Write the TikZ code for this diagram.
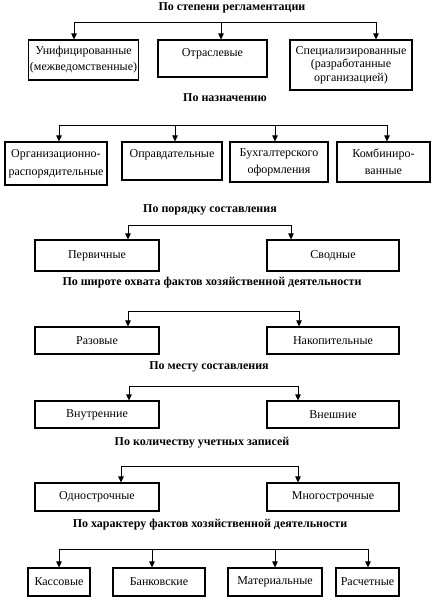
\documentclass[tikz,border=0pt]{standalone}
\usepackage{fontspec}
\setmainfont{Liberation Serif}
\usetikzlibrary{arrows.meta}
\begin{document}
\begin{tikzpicture}[x=1pt,y=-1pt,
 box/.style={draw, line width=1.1pt, inner sep=1pt, align=center, font=\fontsize{12}{15}\selectfont},
 ttl/.style={font=\bfseries\fontsize{12}{14}\selectfont, inner sep=0pt},
 bus/.style={line width=0.9pt},
 arr/.style={line width=0.9pt, -{Triangle[length=6pt,width=5.5pt]}}]
\useasboundingbox[fill=white] (0,0) rectangle (442,611);

% Row 1
\node[ttl, anchor=base] (t1) at (232,10.5) {По степени регламентации};
\node[box, minimum width=109pt, minimum height=40pt, font=\fontsize{12}{16}\selectfont] (A) at (83.5,60) {Унифицированные\\(межведомственные)};
\node[box, minimum width=109pt, minimum height=37pt, text height=8pt, text depth=13pt] (B) at (212.5,58.5) {Отраслевые};
\node[box, minimum width=122pt, minimum height=50pt, font=\fontsize{12}{13.5}\selectfont] (C) at (351,65) {Специализированные\\(разработанные\\организацией)};
\coordinate (r1a) at (74,22); \coordinate (r1b) at (221,22); \coordinate (r1c) at (376,22);
\draw[bus] (r1a) -- (r1c);
\draw[arr] (r1a) -- (r1a |- A.north);
\draw[arr] (r1b) -- (r1b |- B.north);
\draw[arr] (r1c) -- (r1c |- C.north);

% Row 2
\node[ttl] (t2) at (225,98) {По назначению};
\node[box, minimum width=102pt, minimum height=43pt, font=\fontsize{12}{18}\selectfont] (D) at (56,163.5) {Организационно-\\распорядительные};
\node[box, minimum width=100pt, minimum height=38pt, text height=8pt, text depth=16pt] (E) at (172,161) {Оправдательные};
\node[box, minimum width=98pt, minimum height=40pt, font=\fontsize{12}{17}\selectfont] (F) at (279,162) {Бухгалтерского\\оформления};
\node[box, minimum width=93pt, minimum height=40pt, font=\fontsize{12}{17}\selectfont] (G) at (383.5,162) {Комбиниро-\\ванные};
\coordinate (r2a) at (59,125); \coordinate (r2b) at (175,125); \coordinate (r2c) at (275,125); \coordinate (r2d) at (387,125);
\draw[bus] (r2a) -- (r2d);
\draw[arr] (r2a) -- (r2a |- D.north);
\draw[arr] (r2b) -- (r2b |- E.north);
\draw[arr] (r2c) -- (r2c |- F.north);
\draw[arr] (r2d) -- (r2d |- G.north);

% Row 3
\node[ttl] (t3) at (210,210) {По порядку составления};
\node[box, minimum width=124pt, minimum height=31pt] (H) at (97,255.5) {Первичные};
\node[box, minimum width=132pt, minimum height=31pt] (I) at (333,255.5) {Сводные};
\coordinate (r3a) at (128,225); \coordinate (r3b) at (291,225);
\draw[bus] (r3a) -- (r3b);
\draw[arr] (r3a) -- (r3a |- H.north);
\draw[arr] (r3b) -- (r3b |- I.north);

% Row 4
\node[ttl] (t4) at (212,283) {По широте охвата фактов хозяйственной деятельности};
\node[box, minimum width=124pt, minimum height=27pt] (J) at (97,340.5) {Разовые};
\node[box, minimum width=132pt, minimum height=27pt] (K) at (333,340.5) {Накопительные};
\coordinate (r4a) at (128,311); \coordinate (r4b) at (299,311);
\draw[bus] (r4a) -- (r4b);
\draw[arr] (r4a) -- (r4a |- J.north);
\draw[arr] (r4b) -- (r4b |- K.north);

% Row 5
\node[ttl] (t5) at (209,367) {По месту составления};
\node[box, minimum width=124pt, minimum height=27pt] (L) at (97,414.5) {Внутренние};
\node[box, minimum width=132pt, minimum height=27pt] (M) at (333,414.5) {Внешние};
\coordinate (r5a) at (129,386); \coordinate (r5b) at (298,386);
\draw[bus] (r5a) -- (r5b);
\draw[arr] (r5a) -- (r5a |- L.north);
\draw[arr] (r5b) -- (r5b |- M.north);

% Row 6
\node[ttl] (t6) at (202,443) {По количеству учетных записей};
\node[box, minimum width=124pt, minimum height=28pt] (N) at (97,497) {Однострочные};
\node[box, minimum width=132pt, minimum height=28pt] (O) at (333,497) {Многострочные};
\coordinate (r6a) at (121,466); \coordinate (r6b) at (298,466);
\draw[bus] (r6a) -- (r6b);
\draw[arr] (r6a) -- (r6a |- N.north);
\draw[arr] (r6b) -- (r6b |- O.north);

% Row 7
\node[ttl] (t7) at (210,525) {По характеру фактов хозяйственной деятельности};
\node[box, minimum width=62pt, minimum height=28pt] (P) at (59,582) {Кассовые};
\node[box, minimum width=92pt, minimum height=28pt] (Q) at (159,582) {Банковские};
\node[box, minimum width=94pt, minimum height=28pt] (R) at (275,582) {Материальные};
\node[box, minimum width=63pt, minimum height=28pt] (S) at (367.5,582) {Расчетные};
\coordinate (r7a) at (59,549); \coordinate (r7b) at (152,549); \coordinate (r7c) at (275,549); \coordinate (r7d) at (368,549);
\draw[bus] (r7a) -- (r7d);
\draw[arr] (r7a) -- (r7a |- P.north);
\draw[arr] (r7b) -- (r7b |- Q.north);
\draw[arr] (r7c) -- (r7c |- R.north);
\draw[arr] (r7d) -- (r7d |- S.north);
\end{tikzpicture}
\end{document}
